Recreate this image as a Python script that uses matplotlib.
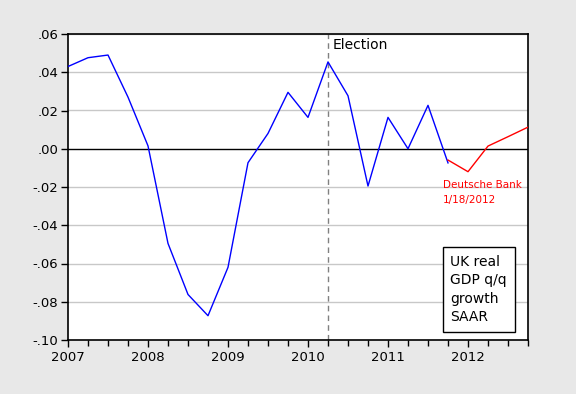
import numpy as np
import matplotlib
matplotlib.use("Agg")
import matplotlib.pyplot as plt
from matplotlib.ticker import MultipleLocator, FuncFormatter

# quarterly dates (decimal years), 2007Q1 .. 2011Q4 actual, 2011Q4 .. 2012Q4 forecast
actual_dates = [2007 + 0.25 * i for i in range(20)]
actual_growth = [0.043, 0.0476, 0.049, 0.027, 0.0015,
                 -0.0495, -0.0762, -0.0873, -0.062, -0.0073,
                 0.008, 0.0295, 0.0164, 0.0454, 0.0277,
                 -0.0195, 0.0164, 0.0, 0.0227, -0.0074]
forecast_dates = [2011.75, 2012.0, 2012.25, 2012.5, 2012.75]
forecast_growth = [-0.0059, -0.012, 0.0014, 0.0063, 0.0113]
election_date = 2010.25
year_labels = [2007, 2008, 2009, 2010, 2011, 2012]

fig = plt.figure(figsize=(5.76, 3.94), dpi=100, facecolor="#e8e8e8")
ax = fig.add_axes([68 / 576, 1 - 340 / 394, 460 / 576, 306 / 394])
ax.set_facecolor("white")

for v in np.arange(-0.08, 0.06, 0.02):
    if abs(v) > 1e-9:
        ax.axhline(v, color="#c8c8c8", lw=1, zorder=0)
ax.axhline(0, color="black", lw=1, zorder=1)
ax.axvline(election_date, color="#808080", lw=1, ls=(0, (4, 3)), zorder=1)

ax.plot(actual_dates, actual_growth, color="#0000ff", lw=1, zorder=3)
ax.plot(forecast_dates, forecast_growth, color="#ff0000", lw=1, zorder=3)

ax.set_xlim(2007, 2012.75)
ax.set_ylim(-0.10, 0.06)
ax.set_xticks(year_labels)
ax.set_xticklabels([str(y) for y in year_labels])
ax.xaxis.set_minor_locator(MultipleLocator(0.25))
ax.yaxis.set_major_locator(MultipleLocator(0.02))


def fmt(v, pos):
    v = round(v, 4)
    if abs(v) < 1e-9:
        return ".00"
    s = "%.2f" % v
    if s.startswith("-0"):
        return "-" + s[2:]
    if s.startswith("0"):
        return s[1:]
    return s


ax.yaxis.set_major_formatter(FuncFormatter(fmt))
ax.tick_params(axis="both", which="major", direction="out", length=5, width=1,
               labelsize=9.5, colors="black")
ax.tick_params(axis="x", which="minor", direction="out", length=4, width=1)
ax.tick_params(axis="y", pad=2)
ax.tick_params(axis="x", pad=3)
for s in ax.spines.values():
    s.set_linewidth(1.2)
    s.set_color("black")

ax.text(2010.31, 0.0542, "Election", fontsize=10, va="center", ha="left")
ax.text(2011.69, -0.019, "Deutsche Bank", color="red", fontsize=7.5,
        va="center", ha="left")
ax.text(2011.69, -0.0268, "1/18/2012", color="red", fontsize=7.5,
        va="center", ha="left")

ax.text(2011.78, -0.0735, "UK real\nGDP q/q\ngrowth\nSAAR", fontsize=10,
        va="center", ha="left", linespacing=1.4,
        bbox=dict(boxstyle="square,pad=0.55", fc="white", ec="black", lw=1))

fig.savefig("out.png", dpi=100, facecolor=fig.get_facecolor())
